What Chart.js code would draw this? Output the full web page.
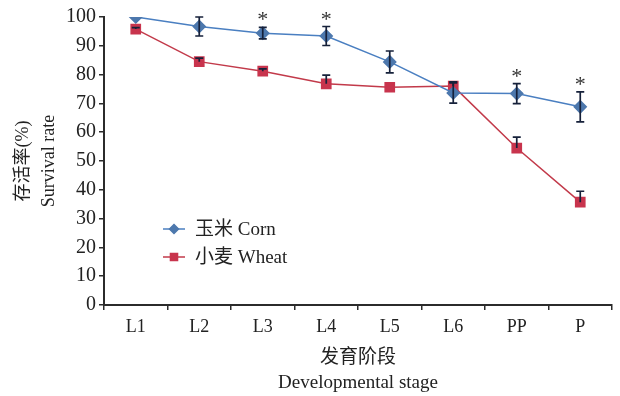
<!DOCTYPE html>
<html>
<head>
<meta charset="utf-8">
<script src="https://cdn.jsdelivr.net/npm/chart.js@4/dist/chart.umd.min.js"></script>
<style>
  html, body { margin: 0; padding: 0; background: #fff; }
  #wrap { width: 620px; height: 396px; }
</style>
</head>
<body>
<div id="wrap"><canvas id="chart"></canvas></div>
<script>
const stages = ['L1', 'L2', 'L3', 'L4', 'L5', 'L6', 'PP', 'P'];
const corn = [100, 96.7, 94.4, 93.4, 84.4, 73.6, 73.4, 68.8];
const cornErr = [0, 3.3, 2.0, 3.3, 3.8, 3.5, 3.5, 5.2];
const wheat = [95.8, 84.5, 81.2, 76.8, 75.6, 76.0, 54.5, 35.7];
const wheatErr = [0.5, 1.2, 0.8, 3.0, 0, 1.5, 3.8, 3.8];
const signif = [false, false, true, true, false, false, true, true];

const serif = '"Liberation Serif", "Noto Sans CJK SC", serif';
const axisColor = '#2b2b2b';

const errorBars = {
  id: 'errorBars',
  afterDatasetsDraw(chart) {
    const ctx = chart.ctx;
    const x = chart.scales.x, y = chart.scales.y;
    const sets = [
      { vals: corn, err: cornErr, both: true },
      { vals: wheat, err: wheatErr, both: false }
    ];
    ctx.save();
    ctx.strokeStyle = '#16213a';
    ctx.lineWidth = 1.7;
    sets.forEach(s => {
      s.vals.forEach((v, i) => {
        if (!s.err[i]) return;
        const px = x.getPixelForValue(i);
        const top = y.getPixelForValue(v + s.err[i]);
        const bot = s.both ? y.getPixelForValue(v - s.err[i]) : y.getPixelForValue(v);
        ctx.beginPath();
        ctx.moveTo(px, top); ctx.lineTo(px, bot);
        ctx.moveTo(px - 4, top); ctx.lineTo(px + 4, top);
        if (s.both) { ctx.moveTo(px - 4, bot); ctx.lineTo(px + 4, bot); }
        ctx.stroke();
      });
    });
    // significance marks
    ctx.fillStyle = '#333';
    ctx.font = '22px ' + serif;
    ctx.textAlign = 'center';
    ctx.textBaseline = 'alphabetic';
    signif.forEach((s, i) => {
      if (!s) return;
      const px = x.getPixelForValue(i);
      const top = y.getPixelForValue(corn[i] + cornErr[i]);
      ctx.fillText('*', px, top - 1);
    });
    ctx.restore();
  }
};

const legendBox = {
  id: 'legendBox',
  afterDraw(chart) {
    const ctx = chart.ctx;
    const items = [
      { label: '玉米 Corn', ds: chart.data.datasets[0], y: 229 },
      { label: '小麦 Wheat', ds: chart.data.datasets[1], y: 257 }
    ];
    ctx.save();
    items.forEach(it => {
      ctx.strokeStyle = it.ds.borderColor;
      ctx.lineWidth = 1.5;
      ctx.beginPath();
      ctx.moveTo(163, it.y); ctx.lineTo(185, it.y);
      ctx.stroke();
      ctx.fillStyle = it.ds.pointBackgroundColor;
      ctx.strokeStyle = it.ds.pointBorderColor;
      Chart.helpers.drawPoint(ctx, {
        pointStyle: it.ds.pointStyle,
        radius: it.ds.pointRadius - 1.5,
        borderWidth: 1
      }, 174, it.y);
      ctx.fillStyle = '#222';
      ctx.font = '19px ' + serif;
      ctx.textBaseline = 'middle';
      ctx.fillText(it.label, 195, it.y + 1);
    });
    ctx.restore();
  }
};

new Chart(document.getElementById('chart'), {
  type: 'line',
  data: {
    labels: stages,
    datasets: [
      {
        label: '玉米 Corn',
        data: corn,
        borderColor: '#4a7fc1',
        borderWidth: 1.5,
        pointStyle: 'rectRot',
        pointRadius: 6,
        pointBackgroundColor: '#4d78ad',
        pointBorderColor: '#4d78ad',
        tension: 0
      },
      {
        label: '小麦 Wheat',
        data: wheat,
        borderColor: '#c23a4a',
        borderWidth: 1.5,
        pointStyle: 'rect',
        pointRadius: 6.5,
        pointBackgroundColor: '#c8344d',
        pointBorderColor: '#c8344d',
        tension: 0
      }
    ]
  },
  options: {
    responsive: true,
    maintainAspectRatio: false,
    animation: false,
    layout: { padding: { top: 17, right: 5, left: 0, bottom: 0 } },
    plugins: {
      legend: { display: false },
      tooltip: { enabled: false }
    },
    scales: {
      x: {
        offset: true,
        grid: { offset: true, drawOnChartArea: false, tickLength: 5, color: axisColor, lineWidth: 1.5 },
        border: { color: axisColor, width: 2 },
        ticks: { color: '#222', font: { family: serif, size: 18 }, padding: 6 },
        title: {
          display: true,
          text: ['发育阶段', 'Developmental stage'],
          color: '#222',
          font: { family: serif, size: 19, lineHeight: 1.35 },
          padding: { top: 2, bottom: 0 }
        },
        afterFit(scale) { scale.height = 91; }
      },
      y: {
        min: 0,
        max: 100,
        ticks: { stepSize: 10, color: '#222', font: { family: serif, size: 20 }, padding: 3 },
        grid: { drawOnChartArea: false, tickLength: 5, color: axisColor, lineWidth: 1.5 },
        border: { color: axisColor, width: 2 },
        title: {
          display: true,
          text: ['存活率(%)', 'Survival rate'],
          color: '#222',
          font: { family: serif, size: 18, lineHeight: 1.45 },
          padding: { top: 10, bottom: 0 }
        },
        afterFit(scale) { scale.width = 104; }
      }
    }
  },
  plugins: [errorBars, legendBox]
});
</script>
</body>
</html>
